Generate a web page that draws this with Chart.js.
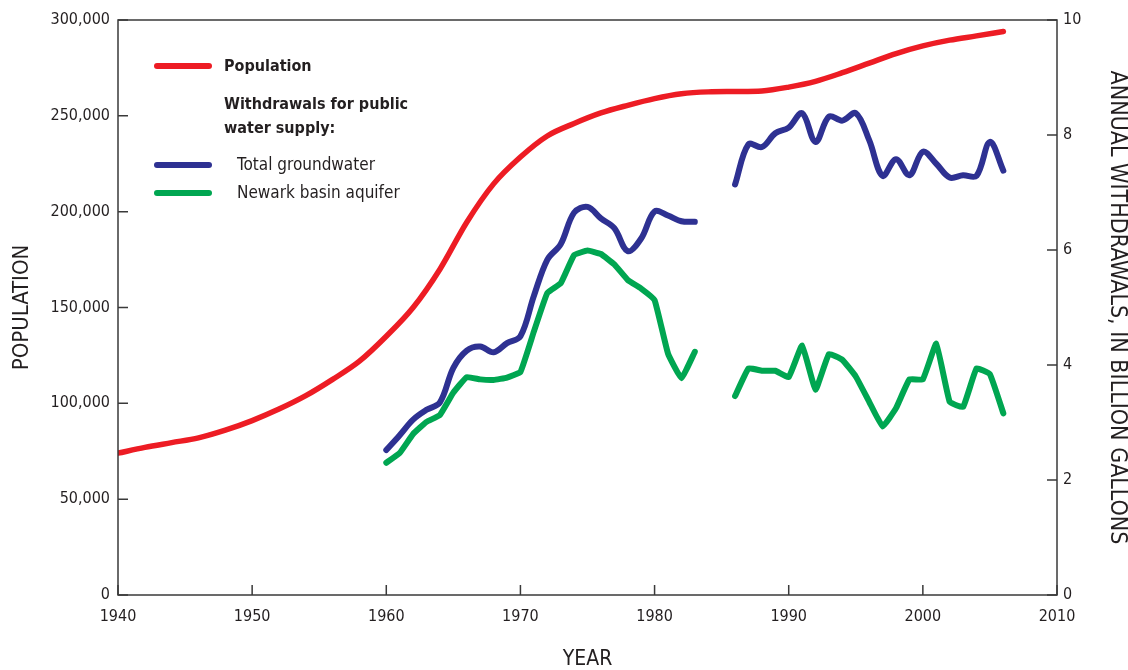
<!DOCTYPE html>
<html>
<head>
<meta charset="utf-8">
<script src="https://cdn.jsdelivr.net/npm/chart.js@4.4.1/dist/chart.umd.min.js"></script>
<style>
  html, body { margin: 0; padding: 0; background: #fff; }
  canvas { display: block; }
</style>
</head>
<body>
<canvas id="waterChart" width="1128" height="670"></canvas>
<script>
const ctx = document.getElementById('waterChart').getContext('2d');

// population
const popYears = [1940, 1942, 1944, 1946, 1948, 1950, 1952, 1954, 1956, 1958, 1960, 1962, 1964,
    1966, 1968, 1970, 1972, 1974, 1976, 1978, 1980, 1982, 1984, 1986, 1988, 1990, 1992, 1994,
    1996, 1998, 2000, 2002, 2004, 2006];
const popValues = [74000, 77000, 79500, 82000, 86000, 91000, 97000, 104000, 112500, 122000,
    135000, 150000, 170000, 194500, 214500, 228500, 239500, 246000, 251500, 255500, 259000,
    261500, 262500, 262700, 263000, 265000, 268000, 272500, 277500, 282500, 286500, 289500,
    291700, 294000];

// withdrawals, billion gallons (no data 1984-85)
const wdYears = [1960, 1961, 1962, 1963, 1964, 1965, 1966, 1967, 1968, 1969, 1970, 1971, 1972,
    1973, 1974, 1975, 1976, 1977, 1978, 1979, 1980, 1981, 1982, 1983, 1984, 1985, 1986, 1987,
    1988, 1989, 1990, 1991, 1992, 1993, 1994, 1995, 1996, 1997, 1998, 1999, 2000, 2001, 2002,
    2003, 2004, 2005, 2006];
const totalGroundwater = [2.52, 2.78, 3.05, 3.22, 3.35, 3.95, 4.25, 4.32, 4.22, 4.38, 4.50, 5.20,
    5.83, 6.10, 6.65, 6.75, 6.55, 6.38, 5.98, 6.20, 6.67, 6.60, 6.50, 6.49, null, null,
    7.14, 7.84, 7.79, 8.03, 8.13, 8.38, 7.88, 8.32, 8.25, 8.38, 7.91, 7.29, 7.58, 7.30, 7.71,
    7.50, 7.26, 7.30, 7.29, 7.88, 7.38];
const newarkBasin = [2.30, 2.47, 2.80, 3.01, 3.13, 3.52, 3.79, 3.75, 3.74, 3.78, 3.88, 4.58,
    5.25, 5.42, 5.91, 5.99, 5.93, 5.75, 5.48, 5.33, 5.13, 4.20, 3.77, 4.23, null, null,
    3.46, 3.94, 3.90, 3.90, 3.79, 4.34, 3.57, 4.19, 4.09, 3.80, 3.36, 2.93, 3.25, 3.75, 3.75,
    4.37, 3.36, 3.27, 3.94, 3.84, 3.16];

const RED = '#ED1C24';
const BLUE = '#2E3192';
const GREEN = '#00A651';
const INK = '#231F20';
const FONT = "'DejaVu Sans Condensed', 'Liberation Sans', sans-serif";

Chart.defaults.font.family = FONT;
Chart.defaults.color = INK;

const toPoints = (xs, ys) => xs.map((x, i) => ({x: x, y: ys[i]}));

// frame + inward tick marks
const frame = {
    id: 'frame',
    afterDraw(chart) {
        const a = chart.chartArea;
        const c = chart.ctx;
        c.save();
        c.strokeStyle = '#3a3a3a';
        c.lineWidth = 1.5;
        c.strokeRect(a.left, a.top, a.right - a.left, a.bottom - a.top);
        c.beginPath();
        chart.scales.x.ticks.forEach(t => {
            const px = chart.scales.x.getPixelForValue(t.value);
            c.moveTo(px, a.bottom); c.lineTo(px, a.bottom - 10);
        });
        chart.scales.yPop.ticks.forEach(t => {
            const py = chart.scales.yPop.getPixelForValue(t.value);
            c.moveTo(a.left, py); c.lineTo(a.left + 10, py);
        });
        chart.scales.yGal.ticks.forEach(t => {
            const py = chart.scales.yGal.getPixelForValue(t.value);
            c.moveTo(a.right, py); c.lineTo(a.right - 10, py);
        });
        c.stroke();
        c.restore();
    }
};

// legend box in the upper left
const keyBox = {
    id: 'keyBox',
    afterDraw(chart) {
        const c = chart.ctx;
        c.save();
        c.lineWidth = 6;
        c.lineCap = 'round';
        [[RED, 66], [BLUE, 165], [GREEN, 193]].forEach(([col, y]) => {
            c.strokeStyle = col;
            c.beginPath(); c.moveTo(157, y); c.lineTo(209, y); c.stroke();
        });
        c.fillStyle = INK;
        c.textBaseline = 'middle';
        c.font = 'bold 16px ' + FONT;
        c.fillText('Population', 224, 67);
        c.fillText('Withdrawals for public', 224, 105);
        c.fillText('water supply:', 224, 129);
        c.font = '17px ' + FONT;
        c.fillText('Total groundwater', 237, 166);
        c.fillText('Newark basin aquifer', 237, 194);
        c.restore();
    }
};

const data = {
    datasets: [
        {
            label: 'Population',
            data: toPoints(popYears, popValues),
            yAxisID: 'yPop',
            borderColor: RED,
            borderWidth: 5.5,
            cubicInterpolationMode: 'monotone',
            pointRadius: 0,
            borderCapStyle: 'round'
        },
        {
            label: 'Total groundwater',
            data: toPoints(wdYears, totalGroundwater),
            yAxisID: 'yGal',
            borderColor: BLUE,
            borderWidth: 6,
            tension: 0.35,
            spanGaps: false,
            pointRadius: 0,
            borderCapStyle: 'round',
            borderJoinStyle: 'round'
        },
        {
            label: 'Newark basin aquifer',
            data: toPoints(wdYears, newarkBasin),
            yAxisID: 'yGal',
            borderColor: GREEN,
            borderWidth: 6,
            tension: 0.1,
            spanGaps: false,
            pointRadius: 0,
            borderCapStyle: 'round',
            borderJoinStyle: 'round'
        }
    ]
};

const config = {
    type: 'line',
    data: data,
    options: {
        responsive: false,
        animation: false,
        layout: {padding: {top: 20}},
        plugins: {
            legend: {display: false},
            tooltip: {enabled: false}
        },
        scales: {
            x: {
                type: 'linear',
                min: 1940,
                max: 2010,
                grid: {display: false, drawTicks: false},
                border: {display: false},
                ticks: {stepSize: 10, padding: 12, font: {size: 16}, callback: v => String(v)},
                title: {display: true, text: 'YEAR', font: {size: 21, lineHeight: 1}, padding: 0},
                afterFit: s => { s.height = 75; }
            },
            yPop: {
                type: 'linear',
                position: 'left',
                min: 0,
                max: 300000,
                grid: {display: false, drawTicks: false},
                border: {display: false},
                ticks: {stepSize: 50000, padding: 8, font: {size: 16},
                    callback: v => v.toLocaleString('en-US')},
                title: {display: true, text: 'POPULATION', font: {size: 22, lineHeight: 1.2}, padding: {top: 9, bottom: 0}},
                afterFit: s => { s.width = 118; }
            },
            yGal: {
                type: 'linear',
                position: 'right',
                min: 0,
                max: 10,
                grid: {display: false, drawTicks: false},
                border: {display: false},
                ticks: {stepSize: 2, padding: 6, font: {size: 16}},
                title: {display: true, text: 'ANNUAL WITHDRAWALS, IN BILLION GALLONS',
                    font: {size: 23, lineHeight: 1}, padding: 0},
                afterFit: s => { s.width = 71; }
            }
        }
    },
    plugins: [frame, keyBox]
};

const waterChart = new Chart(ctx, config);
</script>
</body>
</html>
